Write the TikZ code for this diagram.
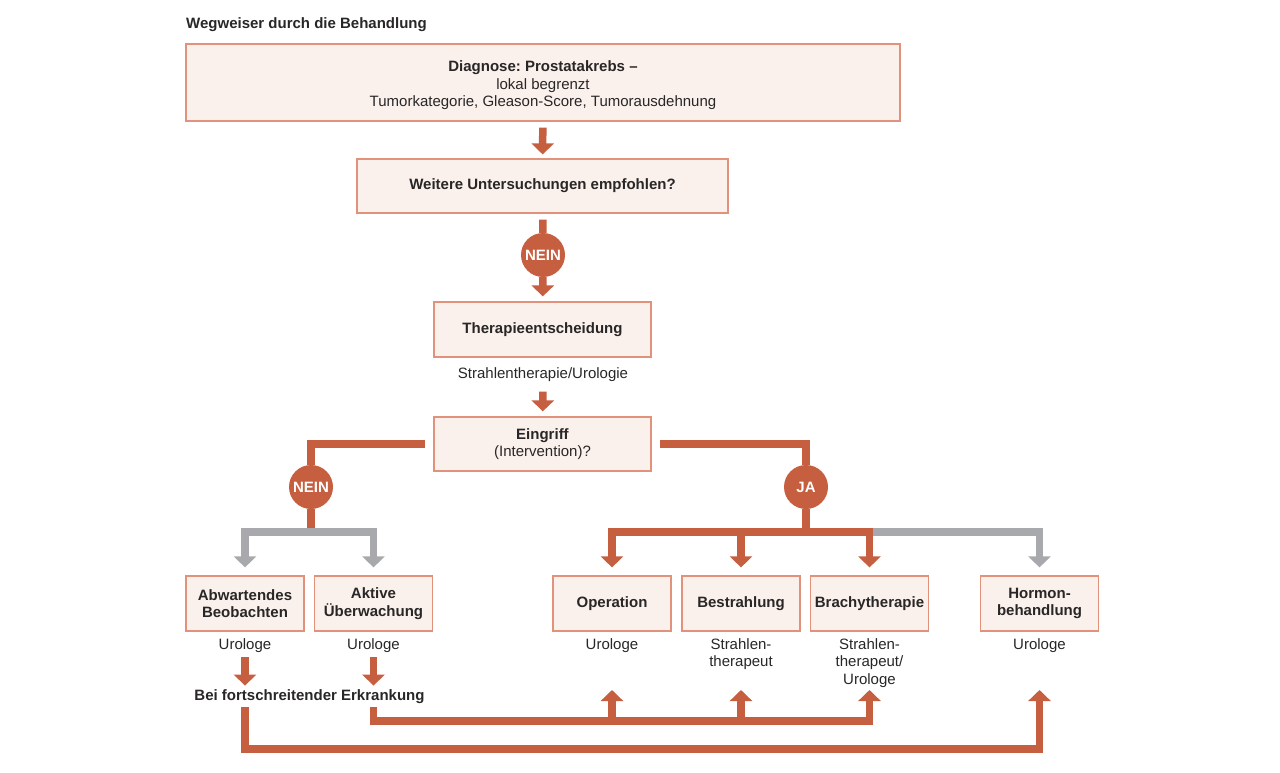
\documentclass[tikz,border=0pt]{standalone}
\usepackage{fontspec}
\setmainfont{Liberation Sans}
\usepackage{tikz}
\usetikzlibrary{arrows.meta}
\frenchspacing

\definecolor{redc}{RGB}{198,94,64}
\definecolor{greyc}{RGB}{167,169,172}
\definecolor{boxfill}{RGB}{251,241,236}
\definecolor{boxline}{RGB}{226,146,122}
\definecolor{textc}{RGB}{40,38,38}

\tikzset{
  every node/.style={text=textc, font=\fontsize{15}{17.5}\selectfont},
  box/.style={draw=boxline, fill=boxfill, line width=1.2pt, align=center,
    minimum height=55pt, inner sep=2pt},
  smallbox/.style={box, minimum width=118pt},
  answer/.style={circle, fill=redc, text=white, minimum size=44pt, inner sep=0pt,
    font=\fontsize{15}{17}\selectfont\bfseries},
  label/.style={align=center, anchor=north, inner sep=0pt},
  redline/.style={draw=redc, line width=7.5pt},
  redarrow/.style={redline, -{Triangle[width=22pt,length=11pt]}},
  greyarrow/.style={draw=greyc, line width=7.5pt, -{Triangle[width=22pt,length=11pt]}},
}

\begin{document}
\begin{tikzpicture}[x=1pt,y=-1pt]
        \useasboundingbox (0,0) rectangle (1280,773);

        % title
        \node[anchor=base west, inner sep=0pt, font=\fontsize{15}{17.5}\selectfont\bfseries] (title) at (186,29) {Wegweiser durch die Behandlung};

        % upper boxes
        \node[box, minimum width=714pt, minimum height=77pt, text height=49pt, text depth=0pt] (diag) at (543,82.5)
          {\textbf{Diagnose: Prostatakrebs –}\\lokal begrenzt\\Tumorkategorie, Gleason-Score, Tumorausdehnung};
        \node[box, minimum width=371pt, minimum height=54pt] (unt) at (542.5,186) {\textbf{Weitere Untersuchungen empfohlen?}};
        \node[answer] (nein1) at (543,255) {NEIN};
        \node[box, minimum width=217pt] (ther) at (542.5,329.5) {\textbf{Therapieentscheidung}};
        \node[anchor=base] (sturo) at (543,378) {Strahlentherapie/Urologie};
        \node[box, minimum width=217pt, minimum height=54pt] (ein) at (542.5,444) {\textbf{Eingriff}\\(Intervention)?};
        \node[answer] (nein2) at (311,487) {NEIN};
        \node[answer] (ja) at (806,487) {JA};

        % lower boxes
        \node[smallbox] (abw) at (245,603.5) {\textbf{Abwartendes}\\\textbf{Beobachten}};
        \node[smallbox] (akt) at (373.5,603.5) {\textbf{Aktive}\\\textbf{Überwachung}};
        \node[smallbox] (op) at (612,603.5) {\textbf{Operation}};
        \node[smallbox] (bes) at (741,603.5) {\textbf{Bestrahlung}};
        \node[smallbox] (bra) at (869.5,603.5) {\textbf{Brachytherapie}};
        \node[smallbox] (hor) at (1039.5,603.5) {\textbf{Hormon-}\\\textbf{behandlung}};

        % who treats
        \node[label] (abwuro) at (245,638) {Urologe};
        \node[label] (akturo) at (373.5,638) {Urologe};
        \node[label] (opuro) at (612,638) {Urologe};
        \node[label] (besuro) at (741,638) {Strahlen-\\therapeut};
        \node[label] (brauro) at (869.5,638) {Strahlen-\\therapeut/\\Urologe};
        \node[label] (horuro) at (1039.5,638) {Urologe};
        \node[anchor=base, font=\fontsize{15}{17.5}\selectfont\bfseries] (erk) at (309.5,700) {Bei fortschreitender Erkrankung};

        % helper levels
        \coordinate (branch) at (0,532);
        \coordinate (midline) at (0,721);
        \coordinate (lowline) at (0,749);
        \coordinate (tipline) at (0,690);

        % main flow
        \draw[redarrow, shorten <=6pt, shorten >=4pt] (diag) -- (unt);
        \draw[redline, shorten <=6pt] (unt) -- (nein1);
        \draw[redarrow, shorten >=5pt] (nein1) -- (ther);
        \draw[redarrow, shorten <=7pt, shorten >=5pt] (sturo) -- (ein);

        % no / yes
        \draw[redline] ([xshift=-8pt]ein.west) -| (nein2);
        \draw[redline] ([xshift=8pt]ein.east) -| (ja);
        \draw[redline] (nein2) -- (nein2 |- branch);
        \draw[redline] (ja) -- (ja |- branch);
        \foreach \n in {abw,akt}
          \draw[greyarrow, shorten >=8pt] (nein2 |- branch) -| (\n);
        \draw[greyarrow, shorten >=8pt] (bra |- branch) -| (hor);
        \foreach \n in {op,bes,bra}
          \draw[redarrow, shorten >=8pt] (ja |- branch) -| (\n);

        % progression
        \foreach \n in {abwuro,akturo}
          \draw[redarrow, shorten <=5pt] (\n.south) -- (\n.south |- erk.north);
        \draw[redarrow] (abwuro |- erk.south) |- (horuro |- lowline) -- (horuro |- tipline);
        \draw[redarrow] (akturo |- erk.south) |- (brauro |- midline) -- (brauro |- tipline);
        \foreach \n in {opuro,besuro}
          \draw[redarrow] (\n |- midline) -- (\n |- tipline);
\end{tikzpicture}
\end{document}
